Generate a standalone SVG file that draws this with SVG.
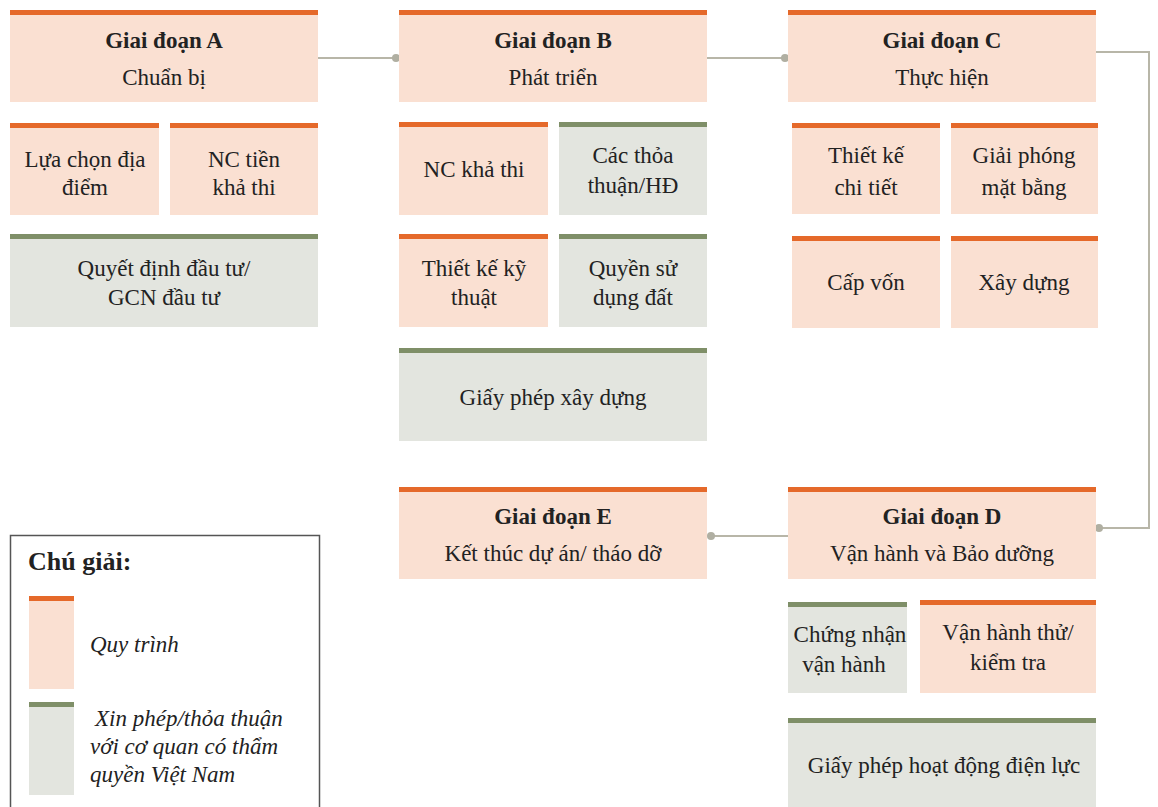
<svg xmlns="http://www.w3.org/2000/svg" width="1158" height="807" viewBox="0 0 1158 807">
  <style>
    .proc { fill: #fae0d2; }
    .perm { fill: #e3e5df; }
    .bar-proc { fill: #e5692a; }
    .bar-perm { fill: #7f8f68; }
    text { font-family: "Liberation Serif", "DejaVu Serif", serif; font-size: 23px; fill: #222; text-anchor: middle; }
    .title { font-weight: bold; }
    .legend-head { font-weight: bold; font-size: 26px; text-anchor: start; }
    .legend-item { font-style: italic; text-anchor: start; }
    .link { fill: none; stroke: #b8b6a8; stroke-width: 2; }
    .dot { fill: #b0afa2; }
  </style>
  <rect width="1158" height="807" fill="#ffffff"/>

  <!-- connectors between stages -->
  <g id="connectors">
    <path class="link" d="M318 58 H395"/>
    <circle class="dot" cx="396" cy="58" r="4"/>
    <path class="link" d="M707 58 H785"/>
    <circle class="dot" cx="785" cy="58" r="4"/>
    <path class="link" d="M1096 52 H1149 V528 H1099"/>
    <circle class="dot" cx="1099" cy="528" r="4"/>
    <path class="link" d="M788 536 H711"/>
    <circle class="dot" cx="711" cy="536" r="4"/>
  </g>

  <!-- Stage A -->
  <g id="stage-a">
    <rect class="proc" x="10" y="10" width="308" height="92"/>
    <rect class="bar-proc" x="10" y="10" width="308" height="5"/>
    <text class="title" x="164" y="48">Giai đoạn A</text>
    <text x="164" y="85">Chuẩn bị</text>
  </g>
  <g id="a-site">
    <rect class="proc" x="10" y="123" width="149" height="92"/>
    <rect class="bar-proc" x="10" y="123" width="149" height="5"/>
    <text x="85" y="167">Lựa chọn địa</text>
    <text x="85" y="195">điểm</text>
  </g>
  <g id="a-prefeasibility">
    <rect class="proc" x="170" y="123" width="148" height="92"/>
    <rect class="bar-proc" x="170" y="123" width="148" height="5"/>
    <text x="244" y="167">NC tiền</text>
    <text x="244" y="195">khả thi</text>
  </g>
  <g id="a-decision">
    <rect class="perm" x="10" y="234" width="308" height="93"/>
    <rect class="bar-perm" x="10" y="234" width="308" height="5"/>
    <text x="164" y="276">Quyết định đầu tư/</text>
    <text x="164" y="305">GCN đầu tư</text>
  </g>

  <!-- Stage B -->
  <g id="stage-b">
    <rect class="proc" x="399" y="10" width="308" height="92"/>
    <rect class="bar-proc" x="399" y="10" width="308" height="5"/>
    <text class="title" x="553" y="48">Giai đoạn B</text>
    <text x="553" y="85">Phát triển</text>
  </g>
  <g id="b-feasibility">
    <rect class="proc" x="399" y="122" width="149" height="93"/>
    <rect class="bar-proc" x="399" y="122" width="149" height="5"/>
    <text x="474" y="177">NC khả thi</text>
  </g>
  <g id="b-agreements">
    <rect class="perm" x="559" y="122" width="148" height="93"/>
    <rect class="bar-perm" x="559" y="122" width="148" height="5"/>
    <text x="633" y="163">Các thỏa</text>
    <text x="633" y="193">thuận/HĐ</text>
  </g>
  <g id="b-design">
    <rect class="proc" x="399" y="234" width="149" height="93"/>
    <rect class="bar-proc" x="399" y="234" width="149" height="5"/>
    <text x="474" y="276">Thiết kế kỹ</text>
    <text x="474" y="305">thuật</text>
  </g>
  <g id="b-land">
    <rect class="perm" x="559" y="234" width="148" height="93"/>
    <rect class="bar-perm" x="559" y="234" width="148" height="5"/>
    <text x="633" y="276">Quyền sử</text>
    <text x="633" y="305">dụng đất</text>
  </g>
  <g id="b-permit">
    <rect class="perm" x="399" y="348" width="308" height="93"/>
    <rect class="bar-perm" x="399" y="348" width="308" height="5"/>
    <text x="553" y="405">Giấy phép xây dựng</text>
  </g>

  <!-- Stage C -->
  <g id="stage-c">
    <rect class="proc" x="788" y="10" width="308" height="92"/>
    <rect class="bar-proc" x="788" y="10" width="308" height="5"/>
    <text class="title" x="942" y="48">Giai đoạn C</text>
    <text x="942" y="85">Thực hiện</text>
  </g>
  <g id="c-detail">
    <rect class="proc" x="792" y="123" width="148" height="91"/>
    <rect class="bar-proc" x="792" y="123" width="148" height="5"/>
    <text x="866" y="163">Thiết kế</text>
    <text x="866" y="195">chi tiết</text>
  </g>
  <g id="c-clearance">
    <rect class="proc" x="951" y="123" width="147" height="91"/>
    <rect class="bar-proc" x="951" y="123" width="147" height="5"/>
    <text x="1024" y="163">Giải phóng</text>
    <text x="1024" y="195">mặt bằng</text>
  </g>
  <g id="c-funding">
    <rect class="proc" x="792" y="236" width="148" height="92"/>
    <rect class="bar-proc" x="792" y="236" width="148" height="5"/>
    <text x="866" y="290">Cấp vốn</text>
  </g>
  <g id="c-build">
    <rect class="proc" x="951" y="236" width="147" height="92"/>
    <rect class="bar-proc" x="951" y="236" width="147" height="5"/>
    <text x="1024" y="290">Xây dựng</text>
  </g>

  <!-- Stage D -->
  <g id="stage-d">
    <rect class="proc" x="788" y="487" width="308" height="92"/>
    <rect class="bar-proc" x="788" y="487" width="308" height="5"/>
    <text class="title" x="942" y="524">Giai đoạn D</text>
    <text x="942" y="561">Vận hành và Bảo dưỡng</text>
  </g>
  <g id="d-certificate">
    <rect class="perm" x="788" y="602" width="119" height="91"/>
    <rect class="bar-perm" x="788" y="602" width="119" height="5"/>
    <text x="850" y="642">Chứng nhận</text>
    <text x="844" y="672">vận hành</text>
  </g>
  <g id="d-testing">
    <rect class="proc" x="920" y="600" width="176" height="93"/>
    <rect class="bar-proc" x="920" y="600" width="176" height="5"/>
    <text x="1008" y="640">Vận hành thử/</text>
    <text x="1008" y="670">kiểm tra</text>
  </g>
  <g id="d-license">
    <rect class="perm" x="788" y="718" width="308" height="95"/>
    <rect class="bar-perm" x="788" y="718" width="308" height="5"/>
    <text x="944" y="773">Giấy phép hoạt động điện lực</text>
  </g>

  <!-- Stage E -->
  <g id="stage-e">
    <rect class="proc" x="399" y="487" width="308" height="92"/>
    <rect class="bar-proc" x="399" y="487" width="308" height="5"/>
    <text class="title" x="553" y="524">Giai đoạn E</text>
    <text x="553" y="561">Kết thúc dự án/ tháo dỡ</text>
  </g>

  <!-- Legend -->
  <g id="legend">
    <rect x="10.5" y="535.5" width="309" height="280" fill="#ffffff" stroke="#555" stroke-width="1.5"/>
    <text class="legend-head" x="28" y="570">Chú giải:</text>
    <rect class="proc" x="29" y="596" width="45" height="93"/>
    <rect class="bar-proc" x="29" y="596" width="45" height="5"/>
    <text class="legend-item" x="90" y="652">Quy trình</text>
    <rect class="perm" x="29" y="702" width="45" height="93"/>
    <rect class="bar-perm" x="29" y="702" width="45" height="5"/>
    <text class="legend-item" x="95" y="726">Xin phép/thỏa thuận</text>
    <text class="legend-item" x="90" y="754">với cơ quan có thẩm</text>
    <text class="legend-item" x="90" y="782">quyền Việt Nam</text>
  </g>
</svg>
